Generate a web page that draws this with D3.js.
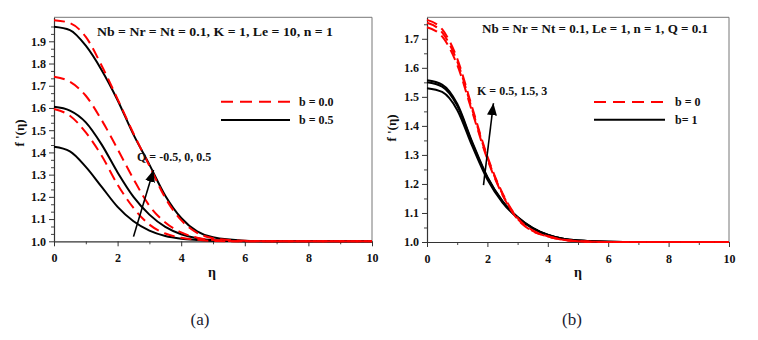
<!DOCTYPE html>
<html>
<head>
<meta charset="utf-8">
<script src="https://cdn.jsdelivr.net/npm/d3@7"></script>
<style>
  body { margin: 0; background: #fff; }
  svg { display: block; }
  svg text { font-family: "Times New Roman", "Liberation Serif", "DejaVu Serif", serif; }
  .tick text { font-weight: 700; font-size: 12px; fill: #111; }
  .lbl { font-weight: 700; fill: #111; }
</style>
</head>
<body>
<div id="chart"></div>
<script>
// eta grid shared by every curve
const eta = [0, 0.5, 1, 1.5, 2, 2.5, 3, 3.5, 4, 4.5, 5, 6, 7, 8, 10];

// panel (a): b = 0.0 (red dashed) and b = 0.5 (black), Q = -0.5, 0, 0.5
const aRedQm05 = [1.595, 1.565, 1.49, 1.385, 1.255, 1.15, 1.075, 1.035, 1.016, 1.007, 1.002, 1.0, 1.0, 1.0, 1.0];
const aRedQ0   = [1.74, 1.718, 1.655, 1.545, 1.415, 1.28, 1.16, 1.085, 1.04, 1.016, 1.006, 1.0, 1.0, 1.0, 1.0];
const aRedQ05  = [1.995, 1.982, 1.92, 1.79, 1.64, 1.485, 1.34, 1.195, 1.095, 1.038, 1.014, 1.002, 1.0, 1.0, 1.0];
const aBlkQm05 = [1.425, 1.405, 1.335, 1.245, 1.155, 1.09, 1.048, 1.024, 1.012, 1.006, 1.002, 1.0, 1.0, 1.0, 1.0];
const aBlkQ0   = [1.605, 1.588, 1.535, 1.435, 1.31, 1.2, 1.12, 1.065, 1.032, 1.014, 1.005, 1.0, 1.0, 1.0, 1.0];
const aBlkQ05  = [1.965, 1.95, 1.88, 1.77, 1.635, 1.48, 1.345, 1.205, 1.105, 1.045, 1.018, 1.003, 1.0, 1.0, 1.0];

// panel (b): b = 0 (red dashed) and b = 1 (black), K = 0.5, 1.5, 3
const bRedK05 = [1.74, 1.708, 1.61, 1.447, 1.285, 1.162, 1.078, 1.037, 1.019, 1.008, 1.003, 1.0, 1.0, 1.0, 1.0];
const bRedK15 = [1.755, 1.722, 1.622, 1.455, 1.29, 1.165, 1.08, 1.038, 1.02, 1.008, 1.003, 1.0, 1.0, 1.0, 1.0];
const bRedK3  = [1.765, 1.733, 1.632, 1.462, 1.295, 1.168, 1.083, 1.04, 1.02, 1.008, 1.003, 1.0, 1.0, 1.0, 1.0];
const bBlkK05 = [1.53, 1.517, 1.455, 1.33, 1.215, 1.136, 1.083, 1.047, 1.024, 1.011, 1.005, 1.001, 1.0, 1.0, 1.0];
const bBlkK15 = [1.55, 1.535, 1.47, 1.34, 1.222, 1.14, 1.085, 1.048, 1.024, 1.011, 1.005, 1.001, 1.0, 1.0, 1.0];
const bBlkK3  = [1.557, 1.542, 1.476, 1.344, 1.224, 1.141, 1.086, 1.049, 1.025, 1.011, 1.005, 1.001, 1.0, 1.0, 1.0];

const xTicks = [0, 2, 4, 6, 8, 10];
const aYTicks = [1.0, 1.1, 1.2, 1.3, 1.4, 1.5, 1.6, 1.7, 1.8, 1.9];
const bYTicks = [1.0, 1.1, 1.2, 1.3, 1.4, 1.5, 1.6, 1.7];

const panels = [
  {
    x0: 54, x1: 372, yTop: 17.3, yBot: 241.3, yMax: 2.008, yTicks: aYTicks, minorSteps: 3,
    red: [aRedQm05, aRedQ0, aRedQ05], black: [aBlkQm05, aBlkQ0, aBlkQ05],
    note: "Nb = Nr = Nt = 0.1,  K = 1,  Le = 10, n = 1", noteX: 97, noteY: 36, noteLen: 236,
    arrow: [[2.5, 1.021], [3.13, 1.321]],
    arrowText: "Q = -0.5, 0, 0.5", arrowTextX: 137, arrowTextY: 161,
    legend: ["b = 0.0", "b = 0.5"], legX0: 221, legX1: 290, legTextX: 299, legY: [101.7, 120],
    yLabelX: 24, yLabelY: 133, etaX: 212, tag: "(a)", tagX: 200
  },
  {
    x0: 427, x1: 729, yTop: 17.3, yBot: 242, yMax: 1.774, yTicks: bYTicks, minorSteps: 2,
    red: [bRedK05, bRedK15, bRedK3], black: [bBlkK05, bBlkK15, bBlkK3],
    note: "Nb = Nr = Nt = 0.1,  Le = 1, n = 1, Q = 0.1", noteX: 482, noteY: 33, noteLen: 226,
    arrow: [[1.87, 1.196], [2.2, 1.478]],
    arrowText: "K =  0.5, 1.5, 3", arrowTextX: 477, arrowTextY: 95,
    legend: ["b = 0", "b= 1"], legX0: 594, legX1: 665, legTextX: 675, legY: [102, 119.7],
    yLabelX: 396, yLabelY: 128, etaX: 578, tag: "(b)", tagX: 572
  }
];

const svg = d3.select("#chart").append("svg")
  .attr("width", 758)
  .attr("height", 340)
  .style("background", "#fff");

svg.append("defs").append("marker")
  .attr("id", "head")
  .attr("markerUnits", "userSpaceOnUse")
  .attr("viewBox", "0 0 12 10")
  .attr("refX", 12).attr("refY", 5)
  .attr("markerWidth", 12).attr("markerHeight", 10)
  .attr("orient", "auto")
  .append("path")
  .attr("d", "M0,0 L12,5 L0,10 Z")
  .attr("fill", "#000");

panels.forEach(p => {
  const x = d3.scaleLinear().domain([0, 10]).range([p.x0, p.x1]);
  const y = d3.scaleLinear().domain([1.0, p.yMax]).range([p.yBot, p.yTop]);
  const g = svg.append("g");

  // frame: top and right edges
  g.append("path")
    .attr("d", `M${p.x0},${p.yTop} H${p.x1} V${p.yBot}`)
    .attr("fill", "none").attr("stroke", "#777").attr("stroke-width", 1);

  // minor ticks
  const xMinor = d3.range(1, 10, 2);
  const yMinor = [];
  for (let i = 0; i < p.yTicks.length; i++) {
    for (let k = 1; k < p.minorSteps; k++) {
      const v = p.yTicks[i] + 0.1 * k / p.minorSteps;
      if (v < p.yMax) yMinor.push(v);
    }
  }
  g.append("g")
    .attr("transform", `translate(0,${p.yBot})`)
    .call(d3.axisBottom(x).tickValues(xMinor).tickSize(3).tickFormat(""))
    .call(a => a.select(".domain").remove())
    .selectAll("line").attr("stroke", "#444");
  g.append("g")
    .attr("transform", `translate(${p.x0},0)`)
    .call(d3.axisLeft(y).tickValues(yMinor).tickSize(3).tickFormat(""))
    .call(a => a.select(".domain").remove())
    .selectAll("line").attr("stroke", "#444");

  // major axes
  const xa = g.append("g")
    .attr("transform", `translate(0,${p.yBot})`)
    .call(d3.axisBottom(x).tickValues(xTicks).tickSize(5).tickSizeOuter(0).tickPadding(7).tickFormat(d3.format("d")));
  const ya = g.append("g")
    .attr("transform", `translate(${p.x0},0)`)
    .call(d3.axisLeft(y).tickValues(p.yTicks).tickSize(5).tickSizeOuter(0).tickPadding(3).tickFormat(d3.format(".1f")));
  [xa, ya].forEach(a => {
    a.attr("font-family", null);
    a.select(".domain").attr("stroke", "#333").attr("stroke-width", 1.2);
    a.selectAll(".tick line").attr("stroke", "#333");
  });

  // curves
  const line = d3.line()
    .x((d, i) => x(eta[i]))
    .y(d => y(d))
    .curve(d3.curveMonotoneX);

  p.black.forEach(s => {
    g.append("path").datum(s)
      .attr("d", line)
      .attr("fill", "none").attr("stroke", "#000").attr("stroke-width", 2);
  });
  p.red.forEach(s => {
    g.append("path").datum(s)
      .attr("d", line)
      .attr("fill", "none").attr("stroke", "#ff0000").attr("stroke-width", 2)
      .attr("stroke-dasharray", "11,6");
  });

  // arrow
  g.append("line")
    .attr("x1", x(p.arrow[0][0])).attr("y1", y(p.arrow[0][1]))
    .attr("x2", x(p.arrow[1][0])).attr("y2", y(p.arrow[1][1]))
    .attr("stroke", "#000").attr("stroke-width", 1.6)
    .attr("marker-end", "url(#head)");
  g.append("text").attr("class", "lbl")
    .attr("x", p.arrowTextX).attr("y", p.arrowTextY)
    .style("font-size", "12px")
    .text(p.arrowText);

  // parameter note
  g.append("text").attr("class", "lbl")
    .attr("x", p.noteX).attr("y", p.noteY)
    .attr("textLength", p.noteLen).attr("lengthAdjust", "spacingAndGlyphs")
    .style("font-size", "12px")
    .text(p.note);

  // legend
  g.append("line")
    .attr("x1", p.legX0).attr("x2", p.legX1)
    .attr("y1", p.legY[0]).attr("y2", p.legY[0])
    .attr("stroke", "#ff0000").attr("stroke-width", 2).attr("stroke-dasharray", "12,7");
  g.append("line")
    .attr("x1", p.legX0).attr("x2", p.legX1)
    .attr("y1", p.legY[1]).attr("y2", p.legY[1])
    .attr("stroke", "#000").attr("stroke-width", 2);
  p.legend.forEach((t, i) => {
    g.append("text").attr("class", "lbl")
      .attr("x", p.legTextX).attr("y", p.legY[i] + 4)
      .style("font-size", "12px")
      .text(t);
  });

  // axis titles
  g.append("text").attr("class", "lbl")
    .attr("transform", `translate(${p.yLabelX},${p.yLabelY}) rotate(-90)`)
    .attr("text-anchor", "middle")
    .style("font-size", "13px")
    .text("f '(η)");
  g.append("text").attr("class", "lbl")
    .attr("x", p.etaX).attr("y", 277)
    .attr("text-anchor", "middle")
    .style("font-size", "14px")
    .text("η");

  // panel tag
  svg.append("text")
    .attr("x", p.tagX).attr("y", 325)
    .attr("text-anchor", "middle")
    .style("font-size", "17px")
    .style("fill", "#1b1b2f")
    .text(p.tag);
});
</script>
</body>
</html>
